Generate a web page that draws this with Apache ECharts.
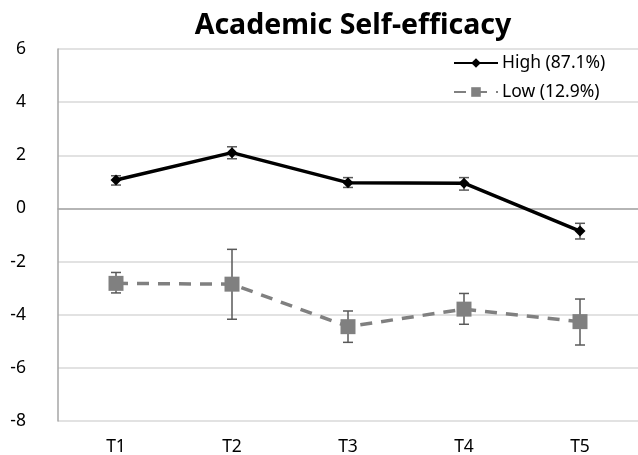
<!DOCTYPE html>
<html>
<head>
<meta charset="utf-8">
<script src="https://cdn.jsdelivr.net/npm/echarts@6/dist/echarts.min.js"></script>
<style>
  html, body { margin: 0; padding: 0; background: #fff; }
  #chart { width: 638px; height: 455px; }
</style>
</head>
<body>
<div id="chart"></div>
<script>
const times = ['T1', 'T2', 'T3', 'T4', 'T5']

const highMean = [1.07, 2.1, 0.97, 0.95, -0.85]
const highLower = [0.88, 1.87, 0.79, 0.69, -1.15]
const highUpper = [1.23, 2.32, 1.16, 1.16, -0.56]

const lowMean = [-2.82, -2.85, -4.45, -3.79, -4.26]
const lowLower = [-3.18, -4.17, -5.04, -4.36, -5.14]
const lowUpper = [-2.41, -1.54, -3.86, -3.2, -3.41]

const font = '"Noto Sans", "Open Sans", sans-serif'

function errorData(lower, upper) {
  return times.map((_, i) => [i, lower[i], upper[i]])
}

function renderError(params, api) {
  const x = api.value(0)
  const lo = api.coord([x, api.value(1)])
  const hi = api.coord([x, api.value(2)])
  const cap = 5
  const style = { stroke: '#595959', lineWidth: 1.5, fill: null }
  return {
    type: 'group',
    children: [
      { type: 'line', shape: { x1: lo[0], y1: lo[1], x2: hi[0], y2: hi[1] }, style },
      { type: 'line', shape: { x1: hi[0] - cap, y1: hi[1], x2: hi[0] + cap, y2: hi[1] }, style },
      { type: 'line', shape: { x1: lo[0] - cap, y1: lo[1], x2: lo[0] + cap, y2: lo[1] }, style }
    ]
  }
}

const chart = echarts.init(document.getElementById('chart'))

chart.setOption({
  animation: false,
  title: {
    text: 'Academic Self-efficacy',
    left: 348,
    textAlign: 'center',
    top: 6,
    textStyle: { fontFamily: font, fontSize: 28.5, fontWeight: 'bold', color: '#000' }
  },
  legend: {
    orient: 'vertical',
    left: 453,
    top: 54,
    padding: 0,
    itemWidth: 44,
    itemHeight: 12,
    itemGap: 11,
    data: ['High (87.1%)', 'Low (12.9%)'],
    textStyle: { fontFamily: font, fontSize: 17.5, color: '#000', padding: [0, 0, 0, -1] }
  },
  grid: { left: 58, right: 0, top: 49, bottom: 34, outerBoundsMode: 'none' },
  xAxis: {
    type: 'category',
    data: times,
    axisLine: { lineStyle: { color: '#a6a6a6', width: 1.5 } },
    axisTick: { show: false },
    axisLabel: { fontFamily: font, fontSize: 17.5, color: '#000', margin: 17 },
    splitLine: { show: false }
  },
  yAxis: {
    type: 'value',
    min: -8,
    max: 6,
    interval: 2,
    axisLine: { show: true, lineStyle: { color: '#a6a6a6', width: 1.5 } },
    axisTick: { show: false },
    axisLabel: { fontFamily: font, fontSize: 17.5, color: '#000', margin: 32 },
    splitLine: { lineStyle: { color: '#d9d9d9', width: 1.5 } }
  },
  series: [
    {
      name: 'High (87.1%)',
      type: 'line',
      data: highMean,
      symbol: 'diamond',
      symbolSize: 11,
      z: 3,
      lineStyle: { color: '#000', width: 3.5 },
      itemStyle: { color: '#000' }
    },
    {
      name: 'Low (12.9%)',
      type: 'line',
      data: lowMean,
      symbol: 'rect',
      symbolSize: 15,
      z: 3,
      lineStyle: { color: '#808080', width: 3.5, type: [12, 9] },
      itemStyle: { color: '#808080' }
    },
    {
      type: 'custom',
      z: 2,
      data: errorData(highLower, highUpper),
      renderItem: renderError
    },
    {
      type: 'custom',
      z: 2,
      data: errorData(lowLower, lowUpper),
      renderItem: renderError
    }
  ]
})
</script>
</body>
</html>
